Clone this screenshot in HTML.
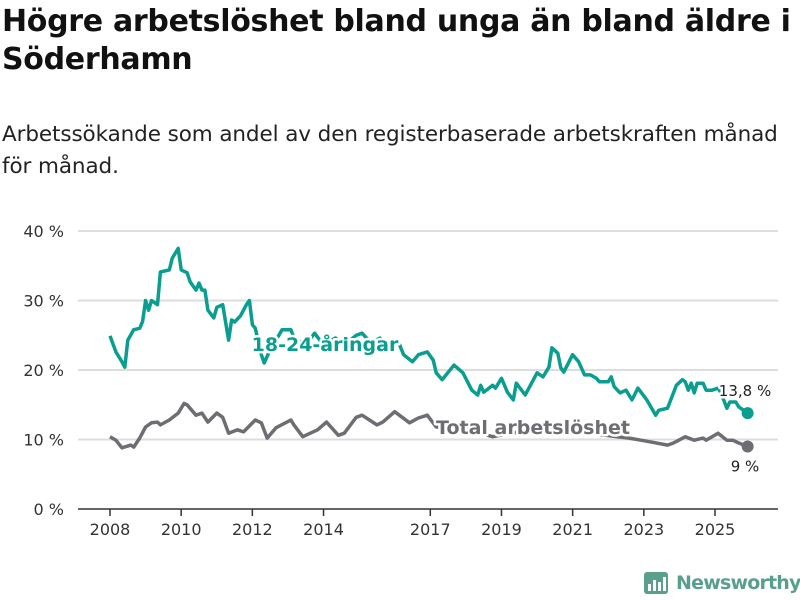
<!DOCTYPE html>
<html><head><meta charset="utf-8"><style>
body{margin:0;width:800px;height:600px;background:#fff;font-family:"Liberation Sans","DejaVu Sans",sans-serif;overflow:hidden}
h1{position:absolute;left:2px;top:3px;margin:0;font:bold 30px/38px "DejaVu Sans","Liberation Sans",sans-serif;color:#111;letter-spacing:-0.3px;white-space:nowrap}
.sub{position:absolute;left:2px;top:119px;margin:0;font:21.5px/32px "DejaVu Sans","Liberation Sans",sans-serif;color:#222;letter-spacing:-0.1px;white-space:nowrap}
</style></head><body>
<h1>Högre arbetslöshet bland unga än bland äldre i<br>Söderhamn</h1>
<p class="sub">Arbetssökande som andel av den registerbaserade arbetskraften månad<br>för månad.</p>
<svg id="chart" width="800" height="600" style="position:absolute;left:0;top:0" font-family="DejaVu Sans, Liberation Sans, sans-serif"></svg>
<script>
const yTicks=[0,10,20,30,40];
const xTickYears=[2008,2010,2012,2014,2017,2019,2021,2023,2025];
const youthMonths=[0,2,4,5,6,8,10,11,12,13,14,16,17,20,21,23,24,26,27,29,30,31,32,33,35,36,38,40,41,42,44,46,47,48,49,51,52,54,56,58,61,62,66,69,72,76,79,83,85,88,91,94,97,99,102,104,107,109,110,112,116,119,122,124,125,126,129,130,132,134,136,137,140,144,146,148,149,151,152,153,156,158,160,162,164,165,168,169,170,172,174,176,178,181,184,185,188,191,193,194,195,196,197,198,200,201,203,205,206,208,209,211,212,215];
const youthValues=[24.9,22.6,21.2,20.4,24.3,25.8,26,27,30,28.6,30,29.4,34.1,34.4,36.1,37.5,34.4,34,32.7,31.5,32.5,31.5,31.5,28.6,27.5,29,29.4,24.3,27.2,26.9,27.8,29.4,30,26.5,26,22.2,21,22.9,24.3,25.8,25.8,24.6,23.6,25.3,23.6,24.6,23.6,25,25.3,23.9,24.6,23.2,24.3,22.2,21.2,22.2,22.6,21.4,19.6,18.6,20.7,19.6,17.1,16.4,17.8,16.8,17.8,17.4,18.8,16.8,15.7,18.1,16.4,19.6,19,20.4,23.2,22.4,20.3,19.7,22.2,21.2,19.3,19.3,18.8,18.3,18.3,19,17.6,16.7,17.1,15.7,17.4,15.7,13.5,14.2,14.5,17.8,18.6,18.3,17.1,18.1,16.7,18.1,18.1,17.1,17.1,17.4,16.7,14.5,15.4,15.4,14.7,13.8];
const totalMonths=[0,2,4,7,8,10,12,14,16,17,20,23,25,26,29,31,33,36,38,40,43,45,49,51,53,56,61,62,65,70,73,77,79,83,85,90,92,96,101,104,107,110,115,121,129,138,148,158,169,175,179,183,188,190,194,197,200,201,205,208,210,212,215];
const totalValues=[10.4,9.9,8.8,9.2,8.9,10.2,11.8,12.4,12.5,12.1,12.8,13.8,15.2,15,13.5,13.8,12.5,13.8,13.2,10.9,11.4,11.1,12.8,12.4,10.2,11.7,12.8,12.1,10.4,11.4,12.5,10.6,10.9,13.2,13.5,12.1,12.5,14,12.4,13.1,13.5,11.8,11.7,11.4,10.4,11.1,11.7,11.1,10.5,10.2,9.9,9.6,9.2,9.5,10.4,9.9,10.2,9.9,10.9,9.9,9.9,9.5,9.0];
const youthLast="13,8 %", totalLast="9 %";

const NS="http://www.w3.org/2000/svg";
const svg=document.getElementById('chart');
const X=m=>110+m*(605/204);
const Y=v=>509-v*6.95;
function mk(t,a,p){const e=document.createElementNS(NS,t);for(const k in a)e.setAttribute(k,a[k]);(p||svg).appendChild(e);return e;}

yTicks.forEach(v=>{
  const g=mk('line',{x1:78,x2:778,y1:Y(v),y2:Y(v),stroke:v===0?'#333':'#ddd','stroke-width':v===0?1.5:2});
  
  
  const t=mk('text',{x:64,y:Y(v)+6,'text-anchor':'end','font-size':16,fill:'#333'});t.textContent=v+' %';
  
  
});
xTickYears.forEach(yr=>{
  const x=X((yr-2008)*12);
  const l=mk('line',{x1:x,x2:x,y1:509,y2:516,stroke:'#333','stroke-width':1.5});
  
  
  const t=mk('text',{x:x,y:535,'text-anchor':'middle','font-size':16,fill:'#333'});t.textContent=yr;
  
  
});
function series(ms,vs,color,name){
  const d=ms.map((m,i)=>(i?'L':'M')+X(m).toFixed(1)+','+Y(vs[i]).toFixed(1)).join('');
  const p=mk('path',{d:d,fill:'none',stroke:color,'stroke-width':3.5,'stroke-linejoin':'round'});
  
  
  const n=ms.length-1;
  const c=mk('circle',{cx:X(ms[n]),cy:Y(vs[n]),r:6,fill:color});
  
  
}
series(totalMonths,totalValues,'#6d6d73','total');
series(youthMonths,youthValues,'#0a9e90','youth');
function label(x,y,txt,color,name,size,bold,halo){
  const t=mk('text',{x:x,y:y,'font-size':size,'font-weight':bold?'bold':'normal',fill:color,'text-anchor':'middle'});
  if(halo){t.setAttribute('stroke','#fff');t.setAttribute('stroke-width',5);t.setAttribute('paint-order','stroke');t.setAttribute('stroke-linejoin','round');}
  t.textContent=txt;
  
  
}
label(325,351,'18-24-åringar','#0a9e90','youth-series-label',19,true,true);
label(533,434,'Total arbetslöshet','#6d6d73','total-series-label',19,true,true);
const ln=youthMonths.length-1, tn=totalMonths.length-1;
label(745,Y(youthValues[ln])-17,youthLast,'#222','youth-value-label',15,false,true);
label(745,Y(totalValues[tn])+25,totalLast,'#222','total-value-label',15,false,true);
</script>
<div style="position:absolute;left:644px;top:568px;height:30px;display:flex;align-items:center">
 <svg width="26" height="26"><rect x="0" y="2" width="24" height="22" rx="3" fill="#5a9e8e"/><rect x="4" y="14" width="3" height="7" fill="#fff"/><rect x="9" y="10" width="3" height="11" fill="#fff"/><rect x="14" y="12" width="3" height="9" fill="#fff"/><rect x="19" y="7" width="3" height="14" fill="#fff"/></svg>
 <span style="margin-left:6px;font:bold 19px 'DejaVu Sans',sans-serif;color:#5a9e8e;letter-spacing:-0.8px">Newsworthy</span>
</div>
</body></html>
